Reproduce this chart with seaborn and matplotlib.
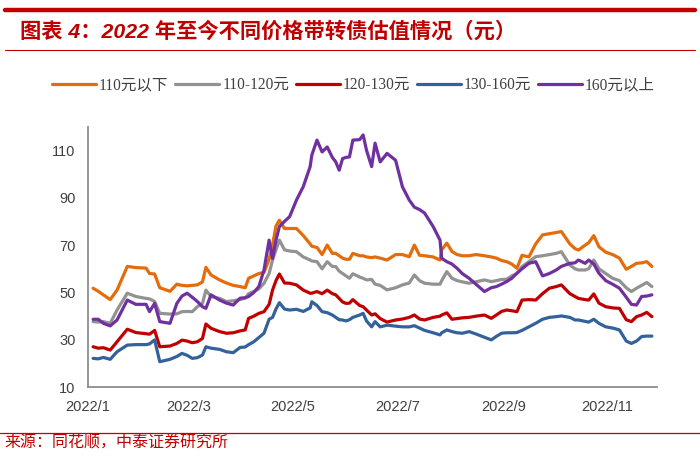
import pandas as pd
import matplotlib
matplotlib.use("Agg")
import matplotlib.pyplot as plt
from matplotlib.lines import Line2D
import seaborn as sns

dates = [
    "01-04", "01-07", "01-10", "01-14", "01-18", "01-24", "01-29", "02-04", "02-06", "02-09",
    "02-12", "02-18", "02-22", "02-25", "02-28", "03-03", "03-06", "03-09", "03-11", "03-14",
    "03-19", "03-23", "03-27", "03-31", "04-03", "04-05", "04-08", "04-11", "04-14", "04-17",
    "04-19", "04-21", "04-23", "04-26", "04-29", "05-03", "05-07", "05-11", "05-12", "05-15",
    "05-18", "05-21", "05-24", "05-26", "05-28", "05-30", "06-01", "06-03", "06-05", "06-09",
    "06-11", "06-13", "06-16", "06-18", "06-21", "06-25", "06-30", "07-04", "07-08", "07-11",
    "07-14", "07-17", "07-22", "07-26", "07-27", "07-30", "08-02", "08-05", "08-08", "08-12",
    "08-16", "08-21", "08-25", "08-28", "08-31", "09-03", "09-06", "09-09", "09-12", "09-16",
    "09-20", "09-24", "09-28", "10-02", "10-05", "10-10", "10-13", "10-15", "10-19", "10-21",
    "10-24", "10-27", "10-31", "11-04", "11-08", "11-12", "11-15", "11-18", "11-21", "11-24",
    "11-27",
]

below_110 = [
    51.8, 50.5, 49, 47, 51, 61, 60.5, 60.3, 58, 57.8,
    52, 50.5, 53.5, 53, 52.8, 53, 53.2, 54.5, 60.6, 57.4,
    55.3, 54, 53, 52.5, 52, 56, 57, 58, 58.5, 64,
    70, 78, 80.5, 77, 77, 77, 74, 70.5, 69.5, 69,
    66, 70, 66.5, 66.5, 65.5, 64.5, 64, 64, 66.5, 65.5,
    65.5, 65, 64.7, 65, 64.5, 63.7, 66, 66, 65.1, 70,
    65.7, 65.5, 65, 63.7, 68, 70.8, 67.3, 66, 65.5, 65.5,
    66, 65.5, 65, 64.5, 63.5, 63, 62, 60.2, 65.7, 65,
    70.5, 74.3, 74.8, 75.3, 75.7, 70.5, 68.5, 67.9, 70, 71,
    74, 69.3, 67, 66, 64.5, 59.8, 61, 62.3, 62.5, 63,
    61,
]

band_110_120 = [
    37.7, 37.5, 37.7, 37, 42.6, 49.7, 48.3, 47.5, 47.3, 46.2,
    41.2, 40.9, 41, 41.9, 42, 41.9, 44, 45.4, 51, 48.3,
    47.5, 46.2, 46.5, 47, 47.6, 49.5, 50.4, 51.5, 53.9, 58,
    63.7, 68, 72.1, 68, 67.5, 67.2, 65, 63.7, 63.3, 63,
    60, 63, 61, 60.9, 59, 58, 57, 56, 57.9, 56.5,
    56, 55.3, 55.5, 53.5, 53, 51.1, 52, 53.2, 54, 57.4,
    55, 53.9, 53.5, 53.5, 55, 58.8, 56, 55, 54.5, 53.9,
    54.5, 55.3, 54.6, 55, 55.5, 55.6, 57, 58, 60.9, 63,
    65.1, 65.5, 66, 66.5, 67.2, 61.6, 60, 59.5, 59.5, 60,
    63.7, 60, 58, 56, 55, 52, 50.4, 51.8, 53, 54.2,
    52.5,
]

band_120_130 = [
    27.1, 26.5, 26.7, 25.7, 29.2, 34.5, 33.1, 32.6, 32.4, 34,
    27.1, 27.4, 28.5, 29.9, 29.5, 28.8, 29.2, 30.6, 36.7, 34.9,
    33.5, 32.8, 33, 33.8, 34.2, 39.1, 40, 41.2, 41.9, 45,
    51, 55, 57.8, 54, 53.9, 53.2, 51, 49.7, 49.7, 50.4,
    49.5, 51, 49.5, 49, 47.5, 46, 45.4, 45.5, 47, 44.5,
    44, 42.6, 40.5, 41, 39, 37.5, 38.4, 38.8, 39.5, 40.5,
    38.8, 38.4, 39.5, 40, 40.5, 41.4, 38.7, 39, 39.3, 39.5,
    40, 40.5, 39.1, 40.5, 42, 42.6, 42.3, 41.9, 46.8, 47,
    46.8, 49.5, 51.8, 52.5, 53.2, 49.5, 48.3, 47.5, 47, 46.8,
    49.4, 45.5, 44, 43.5, 43.3, 38.5, 37.7, 39.8, 40.5, 41.6,
    39.8,
]

band_130_160 = [
    22.2, 22, 22.6, 21.8, 25, 27.8, 28, 28, 28.3, 30,
    20.8, 21.8, 23, 24.3, 23.5, 22.2, 22.5, 23.6, 27.1, 26.5,
    26, 25, 24.6, 26.8, 27, 28, 29.2, 31, 32.8, 38.7,
    39.5, 43, 45.7, 43, 42.6, 42.9, 42, 43.5, 46.1, 44.5,
    41.9, 41.5, 40.5, 39.5, 38.5, 38.4, 38, 38.5, 39.5, 40.5,
    41.2, 38, 35.5, 37.7, 35.5, 36.2, 35.8, 35.5, 35.5, 36,
    35, 34, 33, 32.1, 33, 34.2, 33.5, 33, 32.8, 33.5,
    32.5, 31.1, 30, 31.5, 32.8, 33, 33, 33.1, 34, 35.5,
    37, 38.7, 39.5, 39.8, 40.1, 39.5, 38.4, 38.4, 37.8, 37.5,
    38.7, 37, 35.5, 35, 34.2, 29.5, 28.5, 29.5, 31.4, 31.6,
    31.6,
]

above_160 = [
    38.7, 38.7, 37, 35.9, 38.4, 46.8, 45, 45, 41.9, 45.4,
    37.7, 37, 45.4, 48.5, 49.7, 48, 46.2, 44, 43.3, 49,
    46.8, 45.5, 44.7, 47.6, 47.8, 48.3, 50, 52.5, 59.5, 72.1,
    64.4, 72, 77.8, 80, 82, 89, 94.7, 103.1, 108, 114.3,
    109.3, 111.4, 107, 105.1, 101.6, 106.5, 107, 107.2, 114.3, 114.5,
    116.5, 110, 103.1, 113, 105.1, 108.7, 105.8, 94.6, 89, 86,
    85, 83.5, 77.8, 72.1, 64.4, 63, 62, 60.2, 58, 56,
    53.5, 50.4, 52, 52.5, 53.5, 54.6, 56, 58.1, 60, 62.3,
    63, 57, 58, 59.5, 61, 62.3, 62.5, 63.7, 62.3, 63.7,
    62, 58.1, 55, 53.5, 51.8, 48, 45, 44.7, 48.3, 48.5,
    49,
]

series_names = ["110元以下", "110-120元", "120-130元", "130-160元", "160元以上"]
series_colors = ["#E46C0A", "#929292", "#C00000", "#33619A", "#7030A0"]
tick_dates = ["2022-01-01", "2022-03-01", "2022-05-01", "2022-07-01", "2022-09-01", "2022-11-01"]
tick_labels = ["2022/1", "2022/3", "2022/5", "2022/7", "2022/9", "2022/11"]
y_ticks = [10, 30, 50, 70, 90, 110]

title_text = "图表 4：2022 年至今不同价格带转债估值情况（元）"
source_text = "来源：同花顺，中泰证券研究所"

# long-form table for seaborn
wide = pd.DataFrame({
    "date": pd.to_datetime(["2022-" + d for d in dates]),
    series_names[0]: below_110,
    series_names[1]: band_110_120,
    series_names[2]: band_120_130,
    series_names[3]: band_130_160,
    series_names[4]: above_160,
})
data = wide.melt(id_vars="date", var_name="band", value_name="value")

sns.set_style("white")
plt.rcParams["font.family"] = ["Liberation Sans", "Noto Sans CJK SC", "DejaVu Sans"]

fig = plt.figure(figsize=(7, 4.58), dpi=100)
ax = fig.add_axes([0.1257, 0.1544, 0.8129, 0.5692])

sns.lineplot(data=data, x="date", y="value", hue="band", hue_order=series_names,
             palette=dict(zip(series_names, series_colors)), linewidth=2.3,
             estimator=None, ax=ax)

ax.set_xlim(pd.Timestamp("2022-01-01"), pd.Timestamp("2022-11-30"))
ax.set_ylim(10, 120)
ax.set_xticks(pd.to_datetime(tick_dates))
ax.set_xticklabels(tick_labels)
ax.set_yticks(y_ticks)
ax.set_xlabel("")
ax.set_ylabel("")

for side in ["top", "right"]:
    ax.spines[side].set_visible(False)
for side in ["left", "bottom"]:
    ax.spines[side].set_color("#8C8C8C")
    ax.spines[side].set_linewidth(1.3)
ax.tick_params(axis="both", direction="out", length=5, width=1.2, color="#8C8C8C",
               labelsize=10.5, labelcolor="#404040", pad=4)

ax.legend(loc="center", bbox_to_anchor=(0.505, 0.814), bbox_transform=fig.transFigure,
          ncol=5, frameon=False, handlelength=2.8, handletextpad=0.2, columnspacing=0.45,
          prop={"family": ["Liberation Serif", "Noto Sans CJK SC"], "size": 11.2},
          labelcolor="#404040")

# header and footer decoration
red = "#C00000"
fig.add_artist(Line2D([0.007, 0.993], [0.978, 0.978], color=red, linewidth=3.2))
fig.add_artist(Line2D([0.007, 0.993], [0.89, 0.89], color=red, linewidth=0.8))
fig.text(0.028, 0.932, title_text, color=red, fontsize=15.3, fontweight="bold",
         fontstyle="italic", va="center", ha="left",
         family=["Liberation Sans", "Noto Sans CJK SC"])
fig.add_artist(Line2D([0.0, 1.0], [0.055, 0.055], color=red, linewidth=0.9))
fig.text(0.006, 0.033, source_text, color=red, fontsize=11.5, va="center", ha="left",
         family=["Noto Sans CJK SC"])

fig.savefig("out.png", dpi=100, facecolor="white")
